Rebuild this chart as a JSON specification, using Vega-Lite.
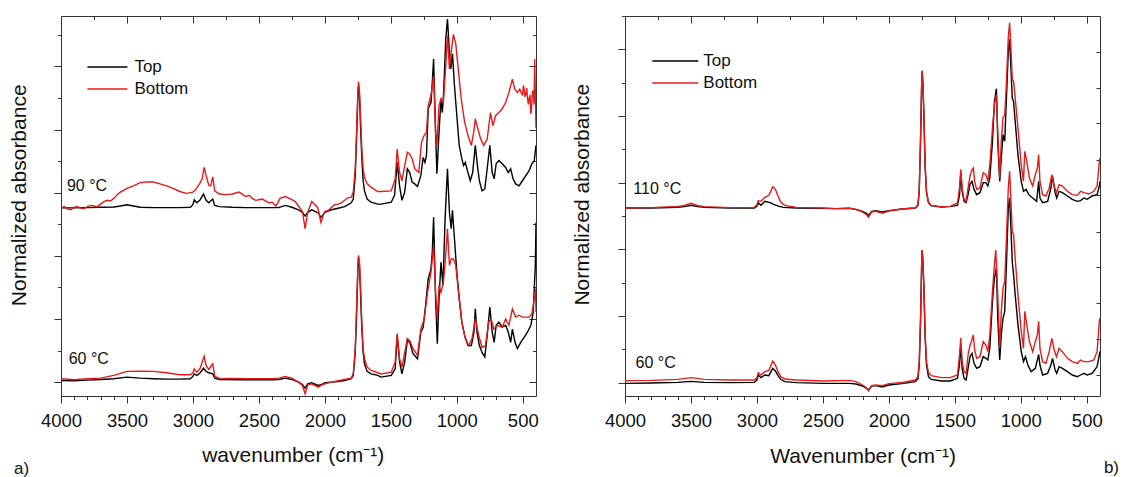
{
"$schema":"https://vega.github.io/schema/vega-lite/v6.json",
"background":"white",
"padding":{"left":8,"top":15,"right":0,"bottom":0},
"config":{"font":"Liberation Sans","view":{"stroke":null},
"axis":{"grid":false,"domainColor":"#333","domainWidth":1,"tickColor":"#333","tickWidth":1,"labelColor":"#111","titleColor":"#111","labelFont":"Liberation Sans","titleFont":"Liberation Sans","labelFontSize":18.5,"titleFontSize":21,"titleFontWeight":"normal"},
"title":{"font":"Liberation Sans","fontSize":17,"fontWeight":"normal","color":"#111"}},
"datasets":{
"a":[
{"s":"Top","t":90,"w":4000,"y":2.76},{"s":"Top","t":90,"w":3900,"y":2.76},{"s":"Top","t":90,"w":3800,"y":2.765},{"s":"Top","t":90,"w":3700,"y":2.77},{"s":"Top","t":90,"w":3600,"y":2.775},{"s":"Top","t":90,"w":3550,"y":2.79},{"s":"Top","t":90,"w":3500,"y":2.81},{"s":"Top","t":90,"w":3450,"y":2.79},{"s":"Top","t":90,"w":3400,"y":2.77},{"s":"Top","t":90,"w":3300,"y":2.765},{"s":"Top","t":90,"w":3200,"y":2.765},{"s":"Top","t":90,"w":3100,"y":2.765},{"s":"Top","t":90,"w":3020,"y":2.77},{"s":"Top","t":90,"w":3000,"y":2.81},{"s":"Top","t":90,"w":2990,"y":2.89},{"s":"Top","t":90,"w":2970,"y":2.84},{"s":"Top","t":90,"w":2945,"y":2.89},{"s":"Top","t":90,"w":2920,"y":2.98},{"s":"Top","t":90,"w":2900,"y":2.88},{"s":"Top","t":90,"w":2880,"y":2.84},{"s":"Top","t":90,"w":2850,"y":2.9},{"s":"Top","t":90,"w":2835,"y":2.8},{"s":"Top","t":90,"w":2800,"y":2.78},{"s":"Top","t":90,"w":2700,"y":2.77},{"s":"Top","t":90,"w":2600,"y":2.765},{"s":"Top","t":90,"w":2500,"y":2.765},{"s":"Top","t":90,"w":2400,"y":2.765},{"s":"Top","t":90,"w":2350,"y":2.765},{"s":"Top","t":90,"w":2300,"y":2.8},{"s":"Top","t":90,"w":2250,"y":2.77},{"s":"Top","t":90,"w":2200,"y":2.73},{"s":"Top","t":90,"w":2170,"y":2.69},{"s":"Top","t":90,"w":2150,"y":2.63},{"s":"Top","t":90,"w":2130,"y":2.69},{"s":"Top","t":90,"w":2100,"y":2.73},{"s":"Top","t":90,"w":2080,"y":2.71},{"s":"Top","t":90,"w":2050,"y":2.68},{"s":"Top","t":90,"w":2030,"y":2.61},{"s":"Top","t":90,"w":2010,"y":2.66},{"s":"Top","t":90,"w":2000,"y":2.69},{"s":"Top","t":90,"w":1950,"y":2.73},{"s":"Top","t":90,"w":1900,"y":2.755},{"s":"Top","t":90,"w":1850,"y":2.78},{"s":"Top","t":90,"w":1800,"y":2.84},{"s":"Top","t":90,"w":1785,"y":2.9},{"s":"Top","t":90,"w":1770,"y":3.27},{"s":"Top","t":90,"w":1760,"y":3.85},{"s":"Top","t":90,"w":1750,"y":4.54},{"s":"Top","t":90,"w":1745,"y":4.7},{"s":"Top","t":90,"w":1738,"y":4.54},{"s":"Top","t":90,"w":1730,"y":4.06},{"s":"Top","t":90,"w":1720,"y":3.54},{"s":"Top","t":90,"w":1710,"y":3.19},{"s":"Top","t":90,"w":1700,"y":3.03},{"s":"Top","t":90,"w":1680,"y":2.9},{"s":"Top","t":90,"w":1650,"y":2.85},{"s":"Top","t":90,"w":1600,"y":2.82},{"s":"Top","t":90,"w":1574,"y":2.82},{"s":"Top","t":90,"w":1497,"y":2.85},{"s":"Top","t":90,"w":1472,"y":2.96},{"s":"Top","t":90,"w":1452,"y":3.48},{"s":"Top","t":90,"w":1434,"y":3.11},{"s":"Top","t":90,"w":1416,"y":2.88},{"s":"Top","t":90,"w":1395,"y":3.01},{"s":"Top","t":90,"w":1375,"y":3.38},{"s":"Top","t":90,"w":1357,"y":3.32},{"s":"Top","t":90,"w":1339,"y":3.17},{"s":"Top","t":90,"w":1319,"y":3.14},{"s":"Top","t":90,"w":1298,"y":3.1},{"s":"Top","t":90,"w":1273,"y":3.27},{"s":"Top","t":90,"w":1255,"y":3.56},{"s":"Top","t":90,"w":1242,"y":3.48},{"s":"Top","t":90,"w":1230,"y":3.59},{"s":"Top","t":90,"w":1217,"y":4.33},{"s":"Top","t":90,"w":1196,"y":4.43},{"s":"Top","t":90,"w":1186,"y":4.75},{"s":"Top","t":90,"w":1176,"y":5.12},{"s":"Top","t":90,"w":1161,"y":3.96},{"s":"Top","t":90,"w":1151,"y":3.3},{"s":"Top","t":90,"w":1135,"y":3.96},{"s":"Top","t":90,"w":1120,"y":4.49},{"s":"Top","t":90,"w":1110,"y":4.27},{"s":"Top","t":90,"w":1100,"y":4.59},{"s":"Top","t":90,"w":1084,"y":5.44},{"s":"Top","t":90,"w":1071,"y":5.75},{"s":"Top","t":90,"w":1059,"y":5.33},{"s":"Top","t":90,"w":1046,"y":4.96},{"s":"Top","t":90,"w":1033,"y":5.2},{"s":"Top","t":90,"w":1018,"y":4.7},{"s":"Top","t":90,"w":1000,"y":4.22},{"s":"Top","t":90,"w":982,"y":3.75},{"s":"Top","t":90,"w":962,"y":3.54},{"s":"Top","t":90,"w":949,"y":3.43},{"s":"Top","t":90,"w":936,"y":3.48},{"s":"Top","t":90,"w":916,"y":3.32},{"s":"Top","t":90,"w":898,"y":3.19},{"s":"Top","t":90,"w":880,"y":3.32},{"s":"Top","t":90,"w":860,"y":3.75},{"s":"Top","t":90,"w":844,"y":3.43},{"s":"Top","t":90,"w":829,"y":3.19},{"s":"Top","t":90,"w":809,"y":3.03},{"s":"Top","t":90,"w":788,"y":3.06},{"s":"Top","t":90,"w":770,"y":3.38},{"s":"Top","t":90,"w":750,"y":3.75},{"s":"Top","t":90,"w":732,"y":3.32},{"s":"Top","t":90,"w":717,"y":3.22},{"s":"Top","t":90,"w":702,"y":3.46},{"s":"Top","t":90,"w":681,"y":3.51},{"s":"Top","t":90,"w":656,"y":3.46},{"s":"Top","t":90,"w":630,"y":3.4},{"s":"Top","t":90,"w":610,"y":3.32},{"s":"Top","t":90,"w":592,"y":3.38},{"s":"Top","t":90,"w":574,"y":3.22},{"s":"Top","t":90,"w":554,"y":3.14},{"s":"Top","t":90,"w":528,"y":3.11},{"s":"Top","t":90,"w":503,"y":3.19},{"s":"Top","t":90,"w":477,"y":3.27},{"s":"Top","t":90,"w":452,"y":3.35},{"s":"Top","t":90,"w":431,"y":3.46},{"s":"Top","t":90,"w":413,"y":3.51},{"s":"Top","t":90,"w":400,"y":3.75},
{"s":"Bottom","t":90,"w":4000,"y":2.76},{"s":"Bottom","t":90,"w":3975,"y":2.78},{"s":"Bottom","t":90,"w":3950,"y":2.74},{"s":"Bottom","t":90,"w":3925,"y":2.73},{"s":"Bottom","t":90,"w":3900,"y":2.77},{"s":"Bottom","t":90,"w":3875,"y":2.78},{"s":"Bottom","t":90,"w":3850,"y":2.755},{"s":"Bottom","t":90,"w":3825,"y":2.75},{"s":"Bottom","t":90,"w":3800,"y":2.78},{"s":"Bottom","t":90,"w":3775,"y":2.8},{"s":"Bottom","t":90,"w":3750,"y":2.79},{"s":"Bottom","t":90,"w":3725,"y":2.78},{"s":"Bottom","t":90,"w":3700,"y":2.82},{"s":"Bottom","t":90,"w":3675,"y":2.86},{"s":"Bottom","t":90,"w":3650,"y":2.88},{"s":"Bottom","t":90,"w":3625,"y":2.87},{"s":"Bottom","t":90,"w":3600,"y":2.91},{"s":"Bottom","t":90,"w":3575,"y":2.97},{"s":"Bottom","t":90,"w":3550,"y":3.01},{"s":"Bottom","t":90,"w":3500,"y":3.07},{"s":"Bottom","t":90,"w":3450,"y":3.11},{"s":"Bottom","t":90,"w":3400,"y":3.16},{"s":"Bottom","t":90,"w":3350,"y":3.17},{"s":"Bottom","t":90,"w":3300,"y":3.17},{"s":"Bottom","t":90,"w":3250,"y":3.14},{"s":"Bottom","t":90,"w":3200,"y":3.11},{"s":"Bottom","t":90,"w":3150,"y":3.07},{"s":"Bottom","t":90,"w":3100,"y":3.02},{"s":"Bottom","t":90,"w":3050,"y":2.99},{"s":"Bottom","t":90,"w":3000,"y":3.01},{"s":"Bottom","t":90,"w":2980,"y":3.05},{"s":"Bottom","t":90,"w":2950,"y":3.14},{"s":"Bottom","t":90,"w":2930,"y":3.22},{"s":"Bottom","t":90,"w":2915,"y":3.4},{"s":"Bottom","t":90,"w":2900,"y":3.27},{"s":"Bottom","t":90,"w":2880,"y":3.12},{"s":"Bottom","t":90,"w":2865,"y":3.11},{"s":"Bottom","t":90,"w":2850,"y":3.25},{"s":"Bottom","t":90,"w":2835,"y":3.03},{"s":"Bottom","t":90,"w":2800,"y":2.98},{"s":"Bottom","t":90,"w":2750,"y":2.97},{"s":"Bottom","t":90,"w":2700,"y":2.98},{"s":"Bottom","t":90,"w":2650,"y":3.01},{"s":"Bottom","t":90,"w":2600,"y":2.94},{"s":"Bottom","t":90,"w":2575,"y":2.96},{"s":"Bottom","t":90,"w":2550,"y":2.91},{"s":"Bottom","t":90,"w":2525,"y":2.88},{"s":"Bottom","t":90,"w":2500,"y":2.89},{"s":"Bottom","t":90,"w":2475,"y":2.9},{"s":"Bottom","t":90,"w":2450,"y":2.87},{"s":"Bottom","t":90,"w":2425,"y":2.84},{"s":"Bottom","t":90,"w":2400,"y":2.85},{"s":"Bottom","t":90,"w":2370,"y":2.79},{"s":"Bottom","t":90,"w":2340,"y":2.91},{"s":"Bottom","t":90,"w":2300,"y":2.94},{"s":"Bottom","t":90,"w":2250,"y":2.89},{"s":"Bottom","t":90,"w":2225,"y":2.86},{"s":"Bottom","t":90,"w":2200,"y":2.79},{"s":"Bottom","t":90,"w":2170,"y":2.7},{"s":"Bottom","t":90,"w":2150,"y":2.43},{"s":"Bottom","t":90,"w":2130,"y":2.69},{"s":"Bottom","t":90,"w":2100,"y":2.86},{"s":"Bottom","t":90,"w":2080,"y":2.82},{"s":"Bottom","t":90,"w":2060,"y":2.78},{"s":"Bottom","t":90,"w":2050,"y":2.73},{"s":"Bottom","t":90,"w":2030,"y":2.53},{"s":"Bottom","t":90,"w":2010,"y":2.66},{"s":"Bottom","t":90,"w":2000,"y":2.7},{"s":"Bottom","t":90,"w":1975,"y":2.72},{"s":"Bottom","t":90,"w":1950,"y":2.77},{"s":"Bottom","t":90,"w":1925,"y":2.81},{"s":"Bottom","t":90,"w":1900,"y":2.82},{"s":"Bottom","t":90,"w":1875,"y":2.84},{"s":"Bottom","t":90,"w":1850,"y":2.88},{"s":"Bottom","t":90,"w":1825,"y":2.92},{"s":"Bottom","t":90,"w":1800,"y":2.93},{"s":"Bottom","t":90,"w":1785,"y":3.01},{"s":"Bottom","t":90,"w":1770,"y":3.38},{"s":"Bottom","t":90,"w":1760,"y":3.96},{"s":"Bottom","t":90,"w":1750,"y":4.62},{"s":"Bottom","t":90,"w":1745,"y":4.76},{"s":"Bottom","t":90,"w":1738,"y":4.62},{"s":"Bottom","t":90,"w":1730,"y":4.22},{"s":"Bottom","t":90,"w":1720,"y":3.69},{"s":"Bottom","t":90,"w":1710,"y":3.38},{"s":"Bottom","t":90,"w":1700,"y":3.25},{"s":"Bottom","t":90,"w":1680,"y":3.14},{"s":"Bottom","t":90,"w":1650,"y":3.09},{"s":"Bottom","t":90,"w":1600,"y":3.02},{"s":"Bottom","t":90,"w":1574,"y":3.02},{"s":"Bottom","t":90,"w":1497,"y":3.03},{"s":"Bottom","t":90,"w":1467,"y":3.22},{"s":"Bottom","t":90,"w":1452,"y":3.69},{"s":"Bottom","t":90,"w":1434,"y":3.32},{"s":"Bottom","t":90,"w":1416,"y":3.19},{"s":"Bottom","t":90,"w":1395,"y":3.43},{"s":"Bottom","t":90,"w":1375,"y":3.64},{"s":"Bottom","t":90,"w":1357,"y":3.61},{"s":"Bottom","t":90,"w":1339,"y":3.54},{"s":"Bottom","t":90,"w":1319,"y":3.38},{"s":"Bottom","t":90,"w":1288,"y":3.32},{"s":"Bottom","t":90,"w":1268,"y":3.8},{"s":"Bottom","t":90,"w":1247,"y":3.91},{"s":"Bottom","t":90,"w":1230,"y":3.96},{"s":"Bottom","t":90,"w":1217,"y":4.38},{"s":"Bottom","t":90,"w":1196,"y":4.54},{"s":"Bottom","t":90,"w":1176,"y":4.85},{"s":"Bottom","t":90,"w":1161,"y":3.96},{"s":"Bottom","t":90,"w":1151,"y":3.75},{"s":"Bottom","t":90,"w":1135,"y":4.38},{"s":"Bottom","t":90,"w":1120,"y":4.49},{"s":"Bottom","t":90,"w":1102,"y":4.43},{"s":"Bottom","t":90,"w":1084,"y":5.01},{"s":"Bottom","t":90,"w":1071,"y":5.49},{"s":"Bottom","t":90,"w":1056,"y":4.96},{"s":"Bottom","t":90,"w":1043,"y":5.22},{"s":"Bottom","t":90,"w":1026,"y":5.51},{"s":"Bottom","t":90,"w":1008,"y":5.36},{"s":"Bottom","t":90,"w":987,"y":4.91},{"s":"Bottom","t":90,"w":967,"y":4.49},{"s":"Bottom","t":90,"w":941,"y":4.12},{"s":"Bottom","t":90,"w":916,"y":3.91},{"s":"Bottom","t":90,"w":890,"y":3.75},{"s":"Bottom","t":90,"w":872,"y":3.96},{"s":"Bottom","t":90,"w":860,"y":4.17},{"s":"Bottom","t":90,"w":840,"y":4.01},{"s":"Bottom","t":90,"w":819,"y":3.85},{"s":"Bottom","t":90,"w":796,"y":3.75},{"s":"Bottom","t":90,"w":770,"y":3.85},{"s":"Bottom","t":90,"w":745,"y":4.27},{"s":"Bottom","t":90,"w":727,"y":4.06},{"s":"Bottom","t":90,"w":707,"y":4.22},{"s":"Bottom","t":90,"w":681,"y":4.27},{"s":"Bottom","t":90,"w":656,"y":4.33},{"s":"Bottom","t":90,"w":630,"y":4.43},{"s":"Bottom","t":90,"w":605,"y":4.59},{"s":"Bottom","t":90,"w":579,"y":4.8},{"s":"Bottom","t":90,"w":561,"y":4.64},{"s":"Bottom","t":90,"w":541,"y":4.59},{"s":"Bottom","t":90,"w":523,"y":4.64},{"s":"Bottom","t":90,"w":503,"y":4.54},{"s":"Bottom","t":90,"w":495,"y":4.7},{"s":"Bottom","t":90,"w":490,"y":4.64},{"s":"Bottom","t":90,"w":485,"y":4.52},{"s":"Bottom","t":90,"w":477,"y":4.56},{"s":"Bottom","t":90,"w":470,"y":4.66},{"s":"Bottom","t":90,"w":465,"y":4.51},{"s":"Bottom","t":90,"w":458,"y":4.4},{"s":"Bottom","t":90,"w":452,"y":4.49},{"s":"Bottom","t":90,"w":445,"y":4.55},{"s":"Bottom","t":90,"w":440,"y":4.25},{"s":"Bottom","t":90,"w":435,"y":4.3},{"s":"Bottom","t":90,"w":430,"y":4.51},{"s":"Bottom","t":90,"w":425,"y":4.62},{"s":"Bottom","t":90,"w":420,"y":4.56},{"s":"Bottom","t":90,"w":415,"y":4.4},{"s":"Bottom","t":90,"w":410,"y":5.12},{"s":"Bottom","t":90,"w":404,"y":4.49},{"s":"Bottom","t":90,"w":400,"y":4.02},
{"s":"Top","t":60,"w":4000,"y":0.026},{"s":"Top","t":60,"w":3900,"y":0.021},{"s":"Top","t":60,"w":3800,"y":0.032},{"s":"Top","t":60,"w":3700,"y":0.042},{"s":"Top","t":60,"w":3600,"y":0.053},{"s":"Top","t":60,"w":3500,"y":0.079},{"s":"Top","t":60,"w":3400,"y":0.063},{"s":"Top","t":60,"w":3300,"y":0.053},{"s":"Top","t":60,"w":3200,"y":0.047},{"s":"Top","t":60,"w":3100,"y":0.047},{"s":"Top","t":60,"w":3020,"y":0.053},{"s":"Top","t":60,"w":3000,"y":0.09},{"s":"Top","t":60,"w":2990,"y":0.13},{"s":"Top","t":60,"w":2970,"y":0.106},{"s":"Top","t":60,"w":2945,"y":0.148},{"s":"Top","t":60,"w":2920,"y":0.22},{"s":"Top","t":60,"w":2900,"y":0.17},{"s":"Top","t":60,"w":2880,"y":0.148},{"s":"Top","t":60,"w":2850,"y":0.13},{"s":"Top","t":60,"w":2835,"y":0.063},{"s":"Top","t":60,"w":2800,"y":0.042},{"s":"Top","t":60,"w":2600,"y":0.037},{"s":"Top","t":60,"w":2400,"y":0.037},{"s":"Top","t":60,"w":2350,"y":0.042},{"s":"Top","t":60,"w":2300,"y":0.063},{"s":"Top","t":60,"w":2250,"y":0.042},{"s":"Top","t":60,"w":2200,"y":0},{"s":"Top","t":60,"w":2170,"y":-0.037},{"s":"Top","t":60,"w":2150,"y":-0.095},{"s":"Top","t":60,"w":2130,"y":-0.026},{"s":"Top","t":60,"w":2100,"y":-0.01},{"s":"Top","t":60,"w":2050,"y":-0.053},{"s":"Top","t":60,"w":2030,"y":-0.042},{"s":"Top","t":60,"w":2000,"y":-0.01},{"s":"Top","t":60,"w":1950,"y":0},{"s":"Top","t":60,"w":1900,"y":0.01},{"s":"Top","t":60,"w":1850,"y":0.026},{"s":"Top","t":60,"w":1800,"y":0.053},{"s":"Top","t":60,"w":1785,"y":0.106},{"s":"Top","t":60,"w":1770,"y":0.47},{"s":"Top","t":60,"w":1760,"y":1.06},{"s":"Top","t":60,"w":1750,"y":1.79},{"s":"Top","t":60,"w":1745,"y":1.98},{"s":"Top","t":60,"w":1738,"y":1.85},{"s":"Top","t":60,"w":1730,"y":1.42},{"s":"Top","t":60,"w":1720,"y":0.84},{"s":"Top","t":60,"w":1710,"y":0.47},{"s":"Top","t":60,"w":1700,"y":0.29},{"s":"Top","t":60,"w":1680,"y":0.17},{"s":"Top","t":60,"w":1650,"y":0.13},{"s":"Top","t":60,"w":1600,"y":0.106},{"s":"Top","t":60,"w":1574,"y":0.079},{"s":"Top","t":60,"w":1497,"y":0.106},{"s":"Top","t":60,"w":1467,"y":0.21},{"s":"Top","t":60,"w":1452,"y":0.74},{"s":"Top","t":60,"w":1434,"y":0.32},{"s":"Top","t":60,"w":1416,"y":0.13},{"s":"Top","t":60,"w":1395,"y":0.32},{"s":"Top","t":60,"w":1375,"y":0.66},{"s":"Top","t":60,"w":1357,"y":0.63},{"s":"Top","t":60,"w":1332,"y":0.45},{"s":"Top","t":60,"w":1298,"y":0.37},{"s":"Top","t":60,"w":1273,"y":0.79},{"s":"Top","t":60,"w":1255,"y":0.87},{"s":"Top","t":60,"w":1237,"y":1.21},{"s":"Top","t":60,"w":1217,"y":1.64},{"s":"Top","t":60,"w":1196,"y":1.79},{"s":"Top","t":60,"w":1186,"y":2.06},{"s":"Top","t":60,"w":1176,"y":2.61},{"s":"Top","t":60,"w":1161,"y":1.32},{"s":"Top","t":60,"w":1148,"y":0.61},{"s":"Top","t":60,"w":1135,"y":1.32},{"s":"Top","t":60,"w":1120,"y":1.9},{"s":"Top","t":60,"w":1105,"y":1.53},{"s":"Top","t":60,"w":1089,"y":2.59},{"s":"Top","t":60,"w":1071,"y":3.38},{"s":"Top","t":60,"w":1056,"y":2.69},{"s":"Top","t":60,"w":1043,"y":2.43},{"s":"Top","t":60,"w":1033,"y":2.72},{"s":"Top","t":60,"w":1018,"y":2.27},{"s":"Top","t":60,"w":1000,"y":1.74},{"s":"Top","t":60,"w":982,"y":1.32},{"s":"Top","t":60,"w":962,"y":0.95},{"s":"Top","t":60,"w":941,"y":0.74},{"s":"Top","t":60,"w":916,"y":0.58},{"s":"Top","t":60,"w":890,"y":0.58},{"s":"Top","t":60,"w":870,"y":0.79},{"s":"Top","t":60,"w":860,"y":1.16},{"s":"Top","t":60,"w":847,"y":0.79},{"s":"Top","t":60,"w":829,"y":0.58},{"s":"Top","t":60,"w":809,"y":0.47},{"s":"Top","t":60,"w":788,"y":0.4},{"s":"Top","t":60,"w":770,"y":0.74},{"s":"Top","t":60,"w":750,"y":1.19},{"s":"Top","t":60,"w":732,"y":0.79},{"s":"Top","t":60,"w":717,"y":0.63},{"s":"Top","t":60,"w":702,"y":0.9},{"s":"Top","t":60,"w":681,"y":0.95},{"s":"Top","t":60,"w":656,"y":0.87},{"s":"Top","t":60,"w":630,"y":0.9},{"s":"Top","t":60,"w":610,"y":0.79},{"s":"Top","t":60,"w":592,"y":0.63},{"s":"Top","t":60,"w":579,"y":0.84},{"s":"Top","t":60,"w":559,"y":0.63},{"s":"Top","t":60,"w":541,"y":0.53},{"s":"Top","t":60,"w":516,"y":0.63},{"s":"Top","t":60,"w":490,"y":0.71},{"s":"Top","t":60,"w":465,"y":0.79},{"s":"Top","t":60,"w":439,"y":0.9},{"s":"Top","t":60,"w":421,"y":1.11},{"s":"Top","t":60,"w":405,"y":1.85},{"s":"Top","t":60,"w":400,"y":2.53},
{"s":"Bottom","t":60,"w":4000,"y":0.053},{"s":"Bottom","t":60,"w":3900,"y":0.037},{"s":"Bottom","t":60,"w":3800,"y":0.053},{"s":"Bottom","t":60,"w":3700,"y":0.063},{"s":"Bottom","t":60,"w":3600,"y":0.106},{"s":"Bottom","t":60,"w":3500,"y":0.17},{"s":"Bottom","t":60,"w":3400,"y":0.174},{"s":"Bottom","t":60,"w":3300,"y":0.17},{"s":"Bottom","t":60,"w":3200,"y":0.148},{"s":"Bottom","t":60,"w":3100,"y":0.116},{"s":"Bottom","t":60,"w":3020,"y":0.116},{"s":"Bottom","t":60,"w":3000,"y":0.148},{"s":"Bottom","t":60,"w":2990,"y":0.21},{"s":"Bottom","t":60,"w":2970,"y":0.158},{"s":"Bottom","t":60,"w":2945,"y":0.22},{"s":"Bottom","t":60,"w":2915,"y":0.41},{"s":"Bottom","t":60,"w":2900,"y":0.26},{"s":"Bottom","t":60,"w":2880,"y":0.2},{"s":"Bottom","t":60,"w":2850,"y":0.29},{"s":"Bottom","t":60,"w":2835,"y":0.09},{"s":"Bottom","t":60,"w":2800,"y":0.063},{"s":"Bottom","t":60,"w":2600,"y":0.053},{"s":"Bottom","t":60,"w":2400,"y":0.053},{"s":"Bottom","t":60,"w":2350,"y":0.063},{"s":"Bottom","t":60,"w":2300,"y":0.09},{"s":"Bottom","t":60,"w":2250,"y":0.063},{"s":"Bottom","t":60,"w":2200,"y":0},{"s":"Bottom","t":60,"w":2170,"y":-0.053},{"s":"Bottom","t":60,"w":2150,"y":-0.185},{"s":"Bottom","t":60,"w":2130,"y":-0.042},{"s":"Bottom","t":60,"w":2100,"y":-0.026},{"s":"Bottom","t":60,"w":2050,"y":-0.08},{"s":"Bottom","t":60,"w":2030,"y":-0.053},{"s":"Bottom","t":60,"w":2000,"y":-0.026},{"s":"Bottom","t":60,"w":1950,"y":0},{"s":"Bottom","t":60,"w":1900,"y":0.021},{"s":"Bottom","t":60,"w":1850,"y":0.042},{"s":"Bottom","t":60,"w":1800,"y":0.063},{"s":"Bottom","t":60,"w":1785,"y":0.13},{"s":"Bottom","t":60,"w":1770,"y":0.53},{"s":"Bottom","t":60,"w":1760,"y":1.16},{"s":"Bottom","t":60,"w":1750,"y":1.85},{"s":"Bottom","t":60,"w":1745,"y":2.01},{"s":"Bottom","t":60,"w":1738,"y":1.9},{"s":"Bottom","t":60,"w":1730,"y":1.53},{"s":"Bottom","t":60,"w":1720,"y":0.95},{"s":"Bottom","t":60,"w":1710,"y":0.53},{"s":"Bottom","t":60,"w":1700,"y":0.37},{"s":"Bottom","t":60,"w":1680,"y":0.24},{"s":"Bottom","t":60,"w":1650,"y":0.185},{"s":"Bottom","t":60,"w":1600,"y":0.148},{"s":"Bottom","t":60,"w":1574,"y":0.13},{"s":"Bottom","t":60,"w":1497,"y":0.158},{"s":"Bottom","t":60,"w":1467,"y":0.32},{"s":"Bottom","t":60,"w":1452,"y":0.77},{"s":"Bottom","t":60,"w":1434,"y":0.37},{"s":"Bottom","t":60,"w":1416,"y":0.24},{"s":"Bottom","t":60,"w":1395,"y":0.47},{"s":"Bottom","t":60,"w":1375,"y":0.69},{"s":"Bottom","t":60,"w":1357,"y":0.66},{"s":"Bottom","t":60,"w":1332,"y":0.53},{"s":"Bottom","t":60,"w":1298,"y":0.42},{"s":"Bottom","t":60,"w":1273,"y":0.84},{"s":"Bottom","t":60,"w":1247,"y":1},{"s":"Bottom","t":60,"w":1222,"y":1.42},{"s":"Bottom","t":60,"w":1196,"y":1.74},{"s":"Bottom","t":60,"w":1176,"y":2.16},{"s":"Bottom","t":60,"w":1161,"y":1.42},{"s":"Bottom","t":60,"w":1148,"y":1},{"s":"Bottom","t":60,"w":1135,"y":1.53},{"s":"Bottom","t":60,"w":1120,"y":1.42},{"s":"Bottom","t":60,"w":1102,"y":1.58},{"s":"Bottom","t":60,"w":1084,"y":2.01},{"s":"Bottom","t":60,"w":1071,"y":2.43},{"s":"Bottom","t":60,"w":1056,"y":1.85},{"s":"Bottom","t":60,"w":1043,"y":1.95},{"s":"Bottom","t":60,"w":1026,"y":1.95},{"s":"Bottom","t":60,"w":1008,"y":1.85},{"s":"Bottom","t":60,"w":987,"y":1.42},{"s":"Bottom","t":60,"w":962,"y":0.95},{"s":"Bottom","t":60,"w":936,"y":0.69},{"s":"Bottom","t":60,"w":911,"y":0.58},{"s":"Bottom","t":60,"w":885,"y":0.69},{"s":"Bottom","t":60,"w":860,"y":1},{"s":"Bottom","t":60,"w":834,"y":0.74},{"s":"Bottom","t":60,"w":809,"y":0.55},{"s":"Bottom","t":60,"w":783,"y":0.58},{"s":"Bottom","t":60,"w":758,"y":0.95},{"s":"Bottom","t":60,"w":740,"y":1},{"s":"Bottom","t":60,"w":719,"y":0.84},{"s":"Bottom","t":60,"w":694,"y":0.9},{"s":"Bottom","t":60,"w":656,"y":0.87},{"s":"Bottom","t":60,"w":630,"y":1},{"s":"Bottom","t":60,"w":605,"y":0.9},{"s":"Bottom","t":60,"w":579,"y":1.16},{"s":"Bottom","t":60,"w":554,"y":1.03},{"s":"Bottom","t":60,"w":528,"y":1.06},{"s":"Bottom","t":60,"w":503,"y":1.03},{"s":"Bottom","t":60,"w":477,"y":1.03},{"s":"Bottom","t":60,"w":452,"y":1.03},{"s":"Bottom","t":60,"w":431,"y":1.08},{"s":"Bottom","t":60,"w":413,"y":1.32},{"s":"Bottom","t":60,"w":403,"y":1.48},{"s":"Bottom","t":60,"w":400,"y":1.11}
],
"b":[
{"s":"Top","t":110,"w":4000,"y":2.62},{"s":"Top","t":110,"w":3800,"y":2.62},{"s":"Top","t":110,"w":3600,"y":2.63},{"s":"Top","t":110,"w":3550,"y":2.64},{"s":"Top","t":110,"w":3500,"y":2.66},{"s":"Top","t":110,"w":3450,"y":2.64},{"s":"Top","t":110,"w":3400,"y":2.63},{"s":"Top","t":110,"w":3200,"y":2.62},{"s":"Top","t":110,"w":3020,"y":2.62},{"s":"Top","t":110,"w":3000,"y":2.645},{"s":"Top","t":110,"w":2990,"y":2.7},{"s":"Top","t":110,"w":2970,"y":2.66},{"s":"Top","t":110,"w":2940,"y":2.72},{"s":"Top","t":110,"w":2900,"y":2.7},{"s":"Top","t":110,"w":2870,"y":2.67},{"s":"Top","t":110,"w":2830,"y":2.645},{"s":"Top","t":110,"w":2800,"y":2.63},{"s":"Top","t":110,"w":2700,"y":2.62},{"s":"Top","t":110,"w":2500,"y":2.615},{"s":"Top","t":110,"w":2400,"y":2.61},{"s":"Top","t":110,"w":2300,"y":2.615},{"s":"Top","t":110,"w":2250,"y":2.6},{"s":"Top","t":110,"w":2200,"y":2.57},{"s":"Top","t":110,"w":2170,"y":2.54},{"s":"Top","t":110,"w":2155,"y":2.51},{"s":"Top","t":110,"w":2130,"y":2.57},{"s":"Top","t":110,"w":2100,"y":2.58},{"s":"Top","t":110,"w":2050,"y":2.56},{"s":"Top","t":110,"w":2000,"y":2.58},{"s":"Top","t":110,"w":1900,"y":2.605},{"s":"Top","t":110,"w":1800,"y":2.62},{"s":"Top","t":110,"w":1780,"y":2.66},{"s":"Top","t":110,"w":1770,"y":2.87},{"s":"Top","t":110,"w":1760,"y":3.62},{"s":"Top","t":110,"w":1752,"y":4.42},{"s":"Top","t":110,"w":1748,"y":4.67},{"s":"Top","t":110,"w":1742,"y":4.47},{"s":"Top","t":110,"w":1735,"y":4.02},{"s":"Top","t":110,"w":1725,"y":3.22},{"s":"Top","t":110,"w":1715,"y":2.85},{"s":"Top","t":110,"w":1700,"y":2.7},{"s":"Top","t":110,"w":1680,"y":2.655},{"s":"Top","t":110,"w":1600,"y":2.635},{"s":"Top","t":110,"w":1535,"y":2.645},{"s":"Top","t":110,"w":1480,"y":2.66},{"s":"Top","t":110,"w":1465,"y":2.81},{"s":"Top","t":110,"w":1455,"y":3.15},{"s":"Top","t":110,"w":1445,"y":2.87},{"s":"Top","t":110,"w":1430,"y":2.72},{"s":"Top","t":110,"w":1415,"y":2.7},{"s":"Top","t":110,"w":1400,"y":2.82},{"s":"Top","t":110,"w":1385,"y":2.98},{"s":"Top","t":110,"w":1370,"y":3.02},{"s":"Top","t":110,"w":1355,"y":2.9},{"s":"Top","t":110,"w":1335,"y":2.82},{"s":"Top","t":110,"w":1310,"y":2.85},{"s":"Top","t":110,"w":1285,"y":3},{"s":"Top","t":110,"w":1265,"y":3},{"s":"Top","t":110,"w":1250,"y":2.95},{"s":"Top","t":110,"w":1235,"y":3.07},{"s":"Top","t":110,"w":1215,"y":3.62},{"s":"Top","t":110,"w":1200,"y":4.22},{"s":"Top","t":110,"w":1185,"y":4.41},{"s":"Top","t":110,"w":1175,"y":3.62},{"s":"Top","t":110,"w":1160,"y":3.02},{"s":"Top","t":110,"w":1148,"y":3.37},{"s":"Top","t":110,"w":1135,"y":3.72},{"s":"Top","t":110,"w":1122,"y":3.62},{"s":"Top","t":110,"w":1110,"y":4.22},{"s":"Top","t":110,"w":1095,"y":4.97},{"s":"Top","t":110,"w":1085,"y":5.15},{"s":"Top","t":110,"w":1075,"y":4.72},{"s":"Top","t":110,"w":1065,"y":4.27},{"s":"Top","t":110,"w":1055,"y":4.22},{"s":"Top","t":110,"w":1045,"y":3.97},{"s":"Top","t":110,"w":1022,"y":3.42},{"s":"Top","t":110,"w":997,"y":3.02},{"s":"Top","t":110,"w":980,"y":2.87},{"s":"Top","t":110,"w":960,"y":2.9},{"s":"Top","t":110,"w":940,"y":2.82},{"s":"Top","t":110,"w":910,"y":2.77},{"s":"Top","t":110,"w":880,"y":2.72},{"s":"Top","t":110,"w":865,"y":3.02},{"s":"Top","t":110,"w":855,"y":2.77},{"s":"Top","t":110,"w":835,"y":2.7},{"s":"Top","t":110,"w":797,"y":2.72},{"s":"Top","t":110,"w":772,"y":2.92},{"s":"Top","t":110,"w":760,"y":3.1},{"s":"Top","t":110,"w":740,"y":2.85},{"s":"Top","t":110,"w":728,"y":2.77},{"s":"Top","t":110,"w":710,"y":2.87},{"s":"Top","t":110,"w":685,"y":2.85},{"s":"Top","t":110,"w":647,"y":2.8},{"s":"Top","t":110,"w":610,"y":2.75},{"s":"Top","t":110,"w":572,"y":2.72},{"s":"Top","t":110,"w":547,"y":2.73},{"s":"Top","t":110,"w":522,"y":2.77},{"s":"Top","t":110,"w":497,"y":2.75},{"s":"Top","t":110,"w":460,"y":2.8},{"s":"Top","t":110,"w":422,"y":2.82},{"s":"Top","t":110,"w":405,"y":2.95},{"s":"Top","t":110,"w":400,"y":3.02},
{"s":"Bottom","t":110,"w":4000,"y":2.62},{"s":"Bottom","t":110,"w":3800,"y":2.625},{"s":"Bottom","t":110,"w":3600,"y":2.645},{"s":"Bottom","t":110,"w":3550,"y":2.66},{"s":"Bottom","t":110,"w":3500,"y":2.69},{"s":"Bottom","t":110,"w":3450,"y":2.66},{"s":"Bottom","t":110,"w":3400,"y":2.64},{"s":"Bottom","t":110,"w":3200,"y":2.625},{"s":"Bottom","t":110,"w":3020,"y":2.63},{"s":"Bottom","t":110,"w":3000,"y":2.67},{"s":"Bottom","t":110,"w":2990,"y":2.73},{"s":"Bottom","t":110,"w":2970,"y":2.72},{"s":"Bottom","t":110,"w":2940,"y":2.78},{"s":"Bottom","t":110,"w":2910,"y":2.81},{"s":"Bottom","t":110,"w":2895,"y":2.87},{"s":"Bottom","t":110,"w":2880,"y":2.94},{"s":"Bottom","t":110,"w":2860,"y":2.9},{"s":"Bottom","t":110,"w":2840,"y":2.8},{"s":"Bottom","t":110,"w":2820,"y":2.71},{"s":"Bottom","t":110,"w":2790,"y":2.66},{"s":"Bottom","t":110,"w":2700,"y":2.63},{"s":"Bottom","t":110,"w":2500,"y":2.62},{"s":"Bottom","t":110,"w":2400,"y":2.61},{"s":"Bottom","t":110,"w":2300,"y":2.62},{"s":"Bottom","t":110,"w":2250,"y":2.6},{"s":"Bottom","t":110,"w":2200,"y":2.56},{"s":"Bottom","t":110,"w":2170,"y":2.52},{"s":"Bottom","t":110,"w":2155,"y":2.48},{"s":"Bottom","t":110,"w":2130,"y":2.56},{"s":"Bottom","t":110,"w":2100,"y":2.57},{"s":"Bottom","t":110,"w":2050,"y":2.54},{"s":"Bottom","t":110,"w":2000,"y":2.575},{"s":"Bottom","t":110,"w":1900,"y":2.605},{"s":"Bottom","t":110,"w":1800,"y":2.62},{"s":"Bottom","t":110,"w":1780,"y":2.66},{"s":"Bottom","t":110,"w":1770,"y":2.9},{"s":"Bottom","t":110,"w":1760,"y":3.67},{"s":"Bottom","t":110,"w":1752,"y":4.47},{"s":"Bottom","t":110,"w":1748,"y":4.68},{"s":"Bottom","t":110,"w":1742,"y":4.5},{"s":"Bottom","t":110,"w":1735,"y":4.07},{"s":"Bottom","t":110,"w":1725,"y":3.27},{"s":"Bottom","t":110,"w":1715,"y":2.87},{"s":"Bottom","t":110,"w":1700,"y":2.71},{"s":"Bottom","t":110,"w":1680,"y":2.66},{"s":"Bottom","t":110,"w":1600,"y":2.635},{"s":"Bottom","t":110,"w":1535,"y":2.645},{"s":"Bottom","t":110,"w":1480,"y":2.695},{"s":"Bottom","t":110,"w":1465,"y":2.92},{"s":"Bottom","t":110,"w":1455,"y":3.2},{"s":"Bottom","t":110,"w":1445,"y":2.92},{"s":"Bottom","t":110,"w":1430,"y":2.75},{"s":"Bottom","t":110,"w":1415,"y":2.72},{"s":"Bottom","t":110,"w":1400,"y":2.92},{"s":"Bottom","t":110,"w":1385,"y":3.1},{"s":"Bottom","t":110,"w":1375,"y":3.17},{"s":"Bottom","t":110,"w":1360,"y":3.22},{"s":"Bottom","t":110,"w":1350,"y":3.02},{"s":"Bottom","t":110,"w":1335,"y":2.9},{"s":"Bottom","t":110,"w":1310,"y":2.92},{"s":"Bottom","t":110,"w":1285,"y":3.15},{"s":"Bottom","t":110,"w":1265,"y":3.12},{"s":"Bottom","t":110,"w":1250,"y":3.02},{"s":"Bottom","t":110,"w":1235,"y":3.27},{"s":"Bottom","t":110,"w":1215,"y":3.82},{"s":"Bottom","t":110,"w":1200,"y":4.17},{"s":"Bottom","t":110,"w":1185,"y":4.32},{"s":"Bottom","t":110,"w":1175,"y":3.77},{"s":"Bottom","t":110,"w":1160,"y":3.07},{"s":"Bottom","t":110,"w":1148,"y":3.62},{"s":"Bottom","t":110,"w":1135,"y":3.97},{"s":"Bottom","t":110,"w":1122,"y":4.02},{"s":"Bottom","t":110,"w":1110,"y":4.47},{"s":"Bottom","t":110,"w":1095,"y":5.18},{"s":"Bottom","t":110,"w":1085,"y":5.4},{"s":"Bottom","t":110,"w":1075,"y":5.03},{"s":"Bottom","t":110,"w":1065,"y":4.55},{"s":"Bottom","t":110,"w":1055,"y":4.52},{"s":"Bottom","t":110,"w":1045,"y":4.32},{"s":"Bottom","t":110,"w":1022,"y":3.82},{"s":"Bottom","t":110,"w":997,"y":3.27},{"s":"Bottom","t":110,"w":980,"y":3.02},{"s":"Bottom","t":110,"w":970,"y":3.47},{"s":"Bottom","t":110,"w":955,"y":3.32},{"s":"Bottom","t":110,"w":935,"y":3.07},{"s":"Bottom","t":110,"w":910,"y":2.95},{"s":"Bottom","t":110,"w":890,"y":3.12},{"s":"Bottom","t":110,"w":875,"y":3.22},{"s":"Bottom","t":110,"w":865,"y":3.42},{"s":"Bottom","t":110,"w":855,"y":3.02},{"s":"Bottom","t":110,"w":835,"y":2.82},{"s":"Bottom","t":110,"w":810,"y":2.8},{"s":"Bottom","t":110,"w":785,"y":2.92},{"s":"Bottom","t":110,"w":765,"y":3.12},{"s":"Bottom","t":110,"w":747,"y":2.95},{"s":"Bottom","t":110,"w":730,"y":2.85},{"s":"Bottom","t":110,"w":710,"y":2.97},{"s":"Bottom","t":110,"w":685,"y":2.95},{"s":"Bottom","t":110,"w":647,"y":2.87},{"s":"Bottom","t":110,"w":610,"y":2.82},{"s":"Bottom","t":110,"w":572,"y":2.81},{"s":"Bottom","t":110,"w":547,"y":2.87},{"s":"Bottom","t":110,"w":522,"y":2.85},{"s":"Bottom","t":110,"w":485,"y":2.83},{"s":"Bottom","t":110,"w":447,"y":2.87},{"s":"Bottom","t":110,"w":422,"y":2.95},{"s":"Bottom","t":110,"w":405,"y":3.32},{"s":"Bottom","t":110,"w":400,"y":3.37},
{"s":"Top","t":60,"w":4000,"y":-0.01},{"s":"Top","t":60,"w":3800,"y":-0.005},{"s":"Top","t":60,"w":3600,"y":0.005},{"s":"Top","t":60,"w":3500,"y":0.02},{"s":"Top","t":60,"w":3400,"y":0.005},{"s":"Top","t":60,"w":3200,"y":0},{"s":"Top","t":60,"w":3020,"y":0.005},{"s":"Top","t":60,"w":3000,"y":0.04},{"s":"Top","t":60,"w":2990,"y":0.115},{"s":"Top","t":60,"w":2970,"y":0.075},{"s":"Top","t":60,"w":2940,"y":0.115},{"s":"Top","t":60,"w":2910,"y":0.105},{"s":"Top","t":60,"w":2880,"y":0.215},{"s":"Top","t":60,"w":2860,"y":0.175},{"s":"Top","t":60,"w":2840,"y":0.105},{"s":"Top","t":60,"w":2820,"y":0.05},{"s":"Top","t":60,"w":2790,"y":0.015},{"s":"Top","t":60,"w":2700,"y":0},{"s":"Top","t":60,"w":2500,"y":-0.01},{"s":"Top","t":60,"w":2300,"y":-0.01},{"s":"Top","t":60,"w":2250,"y":-0.02},{"s":"Top","t":60,"w":2200,"y":-0.05},{"s":"Top","t":60,"w":2170,"y":-0.085},{"s":"Top","t":60,"w":2155,"y":-0.11},{"s":"Top","t":60,"w":2130,"y":-0.05},{"s":"Top","t":60,"w":2100,"y":-0.045},{"s":"Top","t":60,"w":2050,"y":-0.065},{"s":"Top","t":60,"w":2000,"y":-0.035},{"s":"Top","t":60,"w":1900,"y":-0.015},{"s":"Top","t":60,"w":1800,"y":0.015},{"s":"Top","t":60,"w":1780,"y":0.055},{"s":"Top","t":60,"w":1770,"y":0.265},{"s":"Top","t":60,"w":1760,"y":0.92},{"s":"Top","t":60,"w":1752,"y":1.72},{"s":"Top","t":60,"w":1748,"y":1.99},{"s":"Top","t":60,"w":1742,"y":1.82},{"s":"Top","t":60,"w":1735,"y":1.42},{"s":"Top","t":60,"w":1725,"y":0.67},{"s":"Top","t":60,"w":1715,"y":0.265},{"s":"Top","t":60,"w":1700,"y":0.09},{"s":"Top","t":60,"w":1680,"y":0.05},{"s":"Top","t":60,"w":1600,"y":0.025},{"s":"Top","t":60,"w":1535,"y":0.025},{"s":"Top","t":60,"w":1480,"y":0.065},{"s":"Top","t":60,"w":1465,"y":0.265},{"s":"Top","t":60,"w":1455,"y":0.57},{"s":"Top","t":60,"w":1445,"y":0.215},{"s":"Top","t":60,"w":1430,"y":0.065},{"s":"Top","t":60,"w":1415,"y":0.04},{"s":"Top","t":60,"w":1400,"y":0.215},{"s":"Top","t":60,"w":1385,"y":0.39},{"s":"Top","t":60,"w":1370,"y":0.44},{"s":"Top","t":60,"w":1355,"y":0.29},{"s":"Top","t":60,"w":1335,"y":0.215},{"s":"Top","t":60,"w":1310,"y":0.24},{"s":"Top","t":60,"w":1285,"y":0.39},{"s":"Top","t":60,"w":1265,"y":0.365},{"s":"Top","t":60,"w":1250,"y":0.34},{"s":"Top","t":60,"w":1235,"y":0.52},{"s":"Top","t":60,"w":1215,"y":1.22},{"s":"Top","t":60,"w":1200,"y":1.57},{"s":"Top","t":60,"w":1185,"y":1.72},{"s":"Top","t":60,"w":1175,"y":0.97},{"s":"Top","t":60,"w":1160,"y":0.34},{"s":"Top","t":60,"w":1148,"y":0.72},{"s":"Top","t":60,"w":1135,"y":0.97},{"s":"Top","t":60,"w":1122,"y":1.07},{"s":"Top","t":60,"w":1110,"y":1.72},{"s":"Top","t":60,"w":1095,"y":2.62},{"s":"Top","t":60,"w":1085,"y":2.77},{"s":"Top","t":60,"w":1075,"y":2.32},{"s":"Top","t":60,"w":1065,"y":1.82},{"s":"Top","t":60,"w":1055,"y":1.62},{"s":"Top","t":60,"w":1045,"y":1.37},{"s":"Top","t":60,"w":1022,"y":0.87},{"s":"Top","t":60,"w":997,"y":0.47},{"s":"Top","t":60,"w":980,"y":0.315},{"s":"Top","t":60,"w":965,"y":0.39},{"s":"Top","t":60,"w":947,"y":0.265},{"s":"Top","t":60,"w":922,"y":0.165},{"s":"Top","t":60,"w":890,"y":0.215},{"s":"Top","t":60,"w":872,"y":0.365},{"s":"Top","t":60,"w":865,"y":0.42},{"s":"Top","t":60,"w":855,"y":0.265},{"s":"Top","t":60,"w":835,"y":0.115},{"s":"Top","t":60,"w":797,"y":0.14},{"s":"Top","t":60,"w":772,"y":0.265},{"s":"Top","t":60,"w":760,"y":0.365},{"s":"Top","t":60,"w":740,"y":0.19},{"s":"Top","t":60,"w":728,"y":0.14},{"s":"Top","t":60,"w":710,"y":0.24},{"s":"Top","t":60,"w":685,"y":0.215},{"s":"Top","t":60,"w":647,"y":0.165},{"s":"Top","t":60,"w":610,"y":0.115},{"s":"Top","t":60,"w":572,"y":0.09},{"s":"Top","t":60,"w":547,"y":0.115},{"s":"Top","t":60,"w":522,"y":0.14},{"s":"Top","t":60,"w":497,"y":0.115},{"s":"Top","t":60,"w":460,"y":0.14},{"s":"Top","t":60,"w":422,"y":0.24},{"s":"Top","t":60,"w":400,"y":0.47},
{"s":"Bottom","t":60,"w":4000,"y":0.03},{"s":"Bottom","t":60,"w":3800,"y":0.035},{"s":"Bottom","t":60,"w":3600,"y":0.05},{"s":"Bottom","t":60,"w":3500,"y":0.075},{"s":"Bottom","t":60,"w":3400,"y":0.05},{"s":"Bottom","t":60,"w":3200,"y":0.04},{"s":"Bottom","t":60,"w":3020,"y":0.04},{"s":"Bottom","t":60,"w":3000,"y":0.075},{"s":"Bottom","t":60,"w":2990,"y":0.15},{"s":"Bottom","t":60,"w":2970,"y":0.115},{"s":"Bottom","t":60,"w":2940,"y":0.165},{"s":"Bottom","t":60,"w":2910,"y":0.185},{"s":"Bottom","t":60,"w":2880,"y":0.325},{"s":"Bottom","t":60,"w":2860,"y":0.265},{"s":"Bottom","t":60,"w":2840,"y":0.165},{"s":"Bottom","t":60,"w":2820,"y":0.09},{"s":"Bottom","t":60,"w":2790,"y":0.055},{"s":"Bottom","t":60,"w":2700,"y":0.04},{"s":"Bottom","t":60,"w":2500,"y":0.025},{"s":"Bottom","t":60,"w":2300,"y":0.035},{"s":"Bottom","t":60,"w":2250,"y":0.015},{"s":"Bottom","t":60,"w":2200,"y":-0.035},{"s":"Bottom","t":60,"w":2170,"y":-0.075},{"s":"Bottom","t":60,"w":2155,"y":-0.125},{"s":"Bottom","t":60,"w":2130,"y":-0.045},{"s":"Bottom","t":60,"w":2100,"y":-0.035},{"s":"Bottom","t":60,"w":2050,"y":-0.045},{"s":"Bottom","t":60,"w":2000,"y":-0.015},{"s":"Bottom","t":60,"w":1900,"y":0.005},{"s":"Bottom","t":60,"w":1800,"y":0.04},{"s":"Bottom","t":60,"w":1780,"y":0.09},{"s":"Bottom","t":60,"w":1770,"y":0.315},{"s":"Bottom","t":60,"w":1760,"y":0.97},{"s":"Bottom","t":60,"w":1752,"y":1.77},{"s":"Bottom","t":60,"w":1748,"y":1.99},{"s":"Bottom","t":60,"w":1742,"y":1.84},{"s":"Bottom","t":60,"w":1735,"y":1.47},{"s":"Bottom","t":60,"w":1725,"y":0.72},{"s":"Bottom","t":60,"w":1715,"y":0.315},{"s":"Bottom","t":60,"w":1700,"y":0.155},{"s":"Bottom","t":60,"w":1680,"y":0.105},{"s":"Bottom","t":60,"w":1600,"y":0.075},{"s":"Bottom","t":60,"w":1535,"y":0.075},{"s":"Bottom","t":60,"w":1480,"y":0.115},{"s":"Bottom","t":60,"w":1465,"y":0.415},{"s":"Bottom","t":60,"w":1455,"y":0.67},{"s":"Bottom","t":60,"w":1445,"y":0.315},{"s":"Bottom","t":60,"w":1430,"y":0.165},{"s":"Bottom","t":60,"w":1415,"y":0.14},{"s":"Bottom","t":60,"w":1400,"y":0.415},{"s":"Bottom","t":60,"w":1385,"y":0.565},{"s":"Bottom","t":60,"w":1375,"y":0.615},{"s":"Bottom","t":60,"w":1360,"y":0.715},{"s":"Bottom","t":60,"w":1350,"y":0.49},{"s":"Bottom","t":60,"w":1335,"y":0.365},{"s":"Bottom","t":60,"w":1310,"y":0.39},{"s":"Bottom","t":60,"w":1285,"y":0.615},{"s":"Bottom","t":60,"w":1265,"y":0.565},{"s":"Bottom","t":60,"w":1250,"y":0.465},{"s":"Bottom","t":60,"w":1235,"y":0.715},{"s":"Bottom","t":60,"w":1215,"y":1.37},{"s":"Bottom","t":60,"w":1200,"y":1.77},{"s":"Bottom","t":60,"w":1190,"y":1.99},{"s":"Bottom","t":60,"w":1175,"y":1.32},{"s":"Bottom","t":60,"w":1160,"y":0.515},{"s":"Bottom","t":60,"w":1148,"y":1.07},{"s":"Bottom","t":60,"w":1135,"y":1.42},{"s":"Bottom","t":60,"w":1122,"y":1.52},{"s":"Bottom","t":60,"w":1110,"y":2.12},{"s":"Bottom","t":60,"w":1095,"y":2.92},{"s":"Bottom","t":60,"w":1085,"y":3.17},{"s":"Bottom","t":60,"w":1075,"y":2.72},{"s":"Bottom","t":60,"w":1065,"y":2.27},{"s":"Bottom","t":60,"w":1055,"y":2.22},{"s":"Bottom","t":60,"w":1045,"y":1.92},{"s":"Bottom","t":60,"w":1022,"y":1.32},{"s":"Bottom","t":60,"w":997,"y":0.77},{"s":"Bottom","t":60,"w":980,"y":0.515},{"s":"Bottom","t":60,"w":970,"y":1.07},{"s":"Bottom","t":60,"w":955,"y":0.87},{"s":"Bottom","t":60,"w":935,"y":0.615},{"s":"Bottom","t":60,"w":910,"y":0.465},{"s":"Bottom","t":60,"w":890,"y":0.615},{"s":"Bottom","t":60,"w":875,"y":0.715},{"s":"Bottom","t":60,"w":865,"y":0.92},{"s":"Bottom","t":60,"w":855,"y":0.515},{"s":"Bottom","t":60,"w":835,"y":0.315},{"s":"Bottom","t":60,"w":810,"y":0.29},{"s":"Bottom","t":60,"w":785,"y":0.465},{"s":"Bottom","t":60,"w":765,"y":0.665},{"s":"Bottom","t":60,"w":747,"y":0.49},{"s":"Bottom","t":60,"w":730,"y":0.39},{"s":"Bottom","t":60,"w":710,"y":0.515},{"s":"Bottom","t":60,"w":685,"y":0.465},{"s":"Bottom","t":60,"w":647,"y":0.365},{"s":"Bottom","t":60,"w":610,"y":0.315},{"s":"Bottom","t":60,"w":572,"y":0.29},{"s":"Bottom","t":60,"w":547,"y":0.34},{"s":"Bottom","t":60,"w":522,"y":0.315},{"s":"Bottom","t":60,"w":485,"y":0.315},{"s":"Bottom","t":60,"w":447,"y":0.34},{"s":"Bottom","t":60,"w":422,"y":0.465},{"s":"Bottom","t":60,"w":405,"y":0.92},{"s":"Bottom","t":60,"w":400,"y":0.97}
]},
"bounds":"flush",
"spacing":89,
"resolve":{"scale":{"color":"independent"},"legend":{"color":"independent"}},
"hconcat":[
{"width":475,"height":380,
"title":{"text":"a)","orient":"bottom","anchor":"start","frame":"group","dx":-47,"offset":0,"dy":-4},
"data":{"name":"a"},
"resolve":{"axis":{"x":"independent","y":"independent"}},
"layer":[
{"transform":[{"filter":"datum.s === 'Top'"}],
"mark":{"type":"line","strokeWidth":1.4,"clip":true},
"encoding":{
"x":{"field":"w","type":"quantitative","scale":{"domain":[4000,400],"nice":false,"zero":false},
"axis":{"orient":"bottom","values":[4000,3900,3800,3700,3600,3500,3400,3300,3200,3100,3000,2900,2800,2700,2600,2500,2400,2300,2200,2100,2000,1900,1800,1700,1600,1500,1400,1300,1200,1100,1000,900,800,700,600,500],"format":"d","tickSize":{"condition":{"test":"datum.value % 500 === 0","value":7},"value":3.5},"labelExpr":"datum.value % 500 === 0 ? datum.label : ''","labelOverlap":false,"labelFlush":false,"labelPadding":8,"title":"wavenumber (cm⁻¹)","titleX":231.7,"titleY":65,"titleBaseline":"alphabetic","titleAlign":"center"}},
"y":{"field":"y","type":"quantitative","scale":{"domain":[-0.22,5.8],"nice":false,"zero":false},
"axis":{"orient":"left","values":[0,0.5,1,1.5,2,2.5,3,3.5,4,4.5,5,5.5],"tickSize":{"condition":{"test":"datum.value % 1 === 0","value":7},"value":3.5},"labels":false,"title":"Normalized absorbance","titleX":-35.3,"titleY":178.8,"titleAngle":-90,"titleBaseline":"alphabetic","titleAlign":"center"}},
"color":{"field":"s","type":"nominal","scale":{"domain":["Top","Bottom"],"range":["#000000","#e41b1b"]},
"legend":{"orient":"none","legendX":25.4,"legendY":40,"title":null,"symbolType":"stroke","symbolSize":1600,"symbolStrokeWidth":1.5,"labelFontSize":17,"labelFont":"Liberation Sans","labelColor":"#111","labelOffset":6,"clipHeight":22,"rowPadding":0,"padding":0}},
"detail":{"field":"t","type":"nominal"}}},
{"transform":[{"filter":"datum.s === 'Bottom'"}],
"mark":{"type":"line","strokeWidth":1.4,"clip":true},
"encoding":{
"x":{"field":"w","type":"quantitative","scale":{"domain":[4000,400],"nice":false,"zero":false},
"axis":{"orient":"top","values":[4000,3750,3500,3250,3000,2750,2500,2250,2000,1750,1500,1250,1000,750,500],"tickSize":{"condition":{"test":"datum.value % 500 === 0","value":-7},"value":-3.5},"labels":false,"title":null}},
"y":{"field":"y","type":"quantitative","scale":{"domain":[-0.22,5.8],"nice":false,"zero":false},
"axis":{"orient":"right","values":[0,0.5,1,1.5,2,2.5,3,3.5,4,4.5,5,5.5],"tickSize":{"condition":{"test":"datum.value % 1 === 0","value":-7},"value":-3.5},"labels":false,"title":null}},
"color":{"field":"s","type":"nominal","scale":{"domain":["Top","Bottom"],"range":["#000000","#e41b1b"]},
"legend":{"orient":"none","legendX":25.4,"legendY":40,"title":null,"symbolType":"stroke","symbolSize":1600,"symbolStrokeWidth":1.5,"labelFontSize":17,"labelFont":"Liberation Sans","labelColor":"#111","labelOffset":6,"clipHeight":22,"rowPadding":0,"padding":0}},
"detail":{"field":"t","type":"nominal"}}},
{"data":{"values":[{}]},
"mark":{"type":"text","align":"left","baseline":"middle","fontSize":16,"font":"Liberation Sans","color":"#111"},
"encoding":{"x":{"datum":3955,"type":"quantitative","scale":{"domain":[4000,400],"nice":false,"zero":false},"axis":null},"y":{"datum":3.11,"type":"quantitative","scale":{"domain":[-0.22,5.8],"nice":false,"zero":false},"axis":null},"text":{"value":"90 °C"}}},
{"data":{"values":[{}]},
"mark":{"type":"text","align":"left","baseline":"middle","fontSize":16,"font":"Liberation Sans","color":"#111"},
"encoding":{"x":{"datum":3942,"type":"quantitative","scale":{"domain":[4000,400],"nice":false,"zero":false},"axis":null},"y":{"datum":0.37,"type":"quantitative","scale":{"domain":[-0.22,5.8],"nice":false,"zero":false},"axis":null},"text":{"value":"60 °C"}}}
]},
{"width":475,"height":380,
"title":{"text":"b)","orient":"bottom","anchor":"end","frame":"group","dx":19,"offset":0,"dy":-7},
"data":{"name":"b"},
"resolve":{"axis":{"x":"independent","y":"independent"}},
"layer":[
{"transform":[{"filter":"datum.s === 'Top'"}],
"mark":{"type":"line","strokeWidth":1.4,"clip":true},
"encoding":{
"x":{"field":"w","type":"quantitative","scale":{"domain":[4000,400],"nice":false,"zero":false},
"axis":{"orient":"bottom","values":[4000,3900,3800,3700,3600,3500,3400,3300,3200,3100,3000,2900,2800,2700,2600,2500,2400,2300,2200,2100,2000,1900,1800,1700,1600,1500,1400,1300,1200,1100,1000,900,800,700,600,500],"format":"d","tickSize":{"condition":{"test":"datum.value % 500 === 0","value":7},"value":3.5},"labelExpr":"datum.value % 500 === 0 ? datum.label : ''","labelOverlap":false,"labelFlush":false,"labelPadding":8,"title":"Wavenumber (cm⁻¹)","titleX":237.6,"titleY":66.7,"titleBaseline":"alphabetic","titleAlign":"center"}},
"y":{"field":"y","type":"quantitative","scale":{"domain":[-0.2,5.5],"nice":false,"zero":false},
"axis":{"orient":"left","values":[0,0.5,1,1.5,2,2.5,3,3.5,4,4.5,5,5.5],"tickSize":{"condition":{"test":"datum.value % 1 === 0","value":7},"value":3.5},"labels":false,"title":"Normalized absorbance","titleX":-36.2,"titleY":178.2,"titleAngle":-90,"titleBaseline":"alphabetic","titleAlign":"center"}},
"color":{"field":"s","type":"nominal","scale":{"domain":["Top","Bottom"],"range":["#000000","#e41b1b"]},
"legend":{"orient":"none","legendX":26.3,"legendY":34,"title":null,"symbolType":"stroke","symbolSize":2116,"symbolStrokeWidth":1.5,"labelFontSize":17,"labelFont":"Liberation Sans","labelColor":"#111","labelOffset":4,"clipHeight":22,"rowPadding":0,"padding":0}},
"detail":{"field":"t","type":"nominal"}}},
{"transform":[{"filter":"datum.s === 'Bottom'"}],
"mark":{"type":"line","strokeWidth":1.4,"clip":true},
"encoding":{
"x":{"field":"w","type":"quantitative","scale":{"domain":[4000,400],"nice":false,"zero":false},
"axis":{"orient":"top","values":[4000,3750,3500,3250,3000,2750,2500,2250,2000,1750,1500,1250,1000,750,500],"tickSize":{"condition":{"test":"datum.value % 500 === 0","value":-7},"value":-3.5},"labels":false,"title":null}},
"y":{"field":"y","type":"quantitative","scale":{"domain":[-0.2,5.5],"nice":false,"zero":false},
"axis":{"orient":"right","values":[0.115,0.65,1.19,1.73,2.265,2.815,3.34,3.89,4.425,4.965],"tickSize":-4,"labels":false,"title":null}},
"color":{"field":"s","type":"nominal","scale":{"domain":["Top","Bottom"],"range":["#000000","#e41b1b"]},
"legend":{"orient":"none","legendX":26.3,"legendY":34,"title":null,"symbolType":"stroke","symbolSize":2116,"symbolStrokeWidth":1.5,"labelFontSize":17,"labelFont":"Liberation Sans","labelColor":"#111","labelOffset":4,"clipHeight":22,"rowPadding":0,"padding":0}},
"detail":{"field":"t","type":"nominal"}}},
{"data":{"values":[{}]},
"mark":{"type":"text","align":"left","baseline":"middle","fontSize":16,"font":"Liberation Sans","color":"#111"},
"encoding":{"x":{"datum":3937,"type":"quantitative","scale":{"domain":[4000,400],"nice":false,"zero":false},"axis":null},"y":{"datum":2.9,"type":"quantitative","scale":{"domain":[-0.2,5.5],"nice":false,"zero":false},"axis":null},"text":{"value":"110 °C"}}},
{"data":{"values":[{}]},
"mark":{"type":"text","align":"left","baseline":"middle","fontSize":16,"font":"Liberation Sans","color":"#111"},
"encoding":{"x":{"datum":3920,"type":"quantitative","scale":{"domain":[4000,400],"nice":false,"zero":false},"axis":null},"y":{"datum":0.29,"type":"quantitative","scale":{"domain":[-0.2,5.5],"nice":false,"zero":false},"axis":null},"text":{"value":"60 °C"}}}
]}
]
}
